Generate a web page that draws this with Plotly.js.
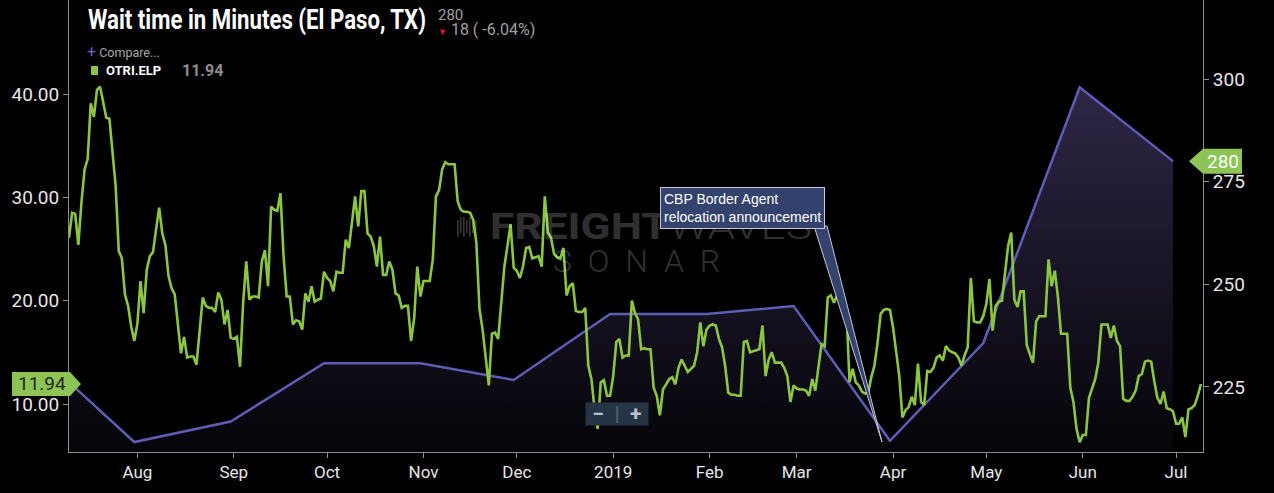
<!DOCTYPE html>
<html>
<head>
<meta charset="utf-8">
<script src="https://cdn.plot.ly/plotly-3.0.1.min.js"></script>
<style>
html,body{margin:0;padding:0;background:#000;}
#chart{width:1274px;height:493px;}
</style>
</head>
<body>
<div id="chart"></div>
<script>
// ---------------- DATA ----------------
const chartTitle = 'Wait time in Minutes (El Paso, TX)';
const seriesName = 'OTRI.ELP';
const waitStartDate = '2018-07-10';   // daily series starts here
const waitMinutes = [
  26.1, 28.5, 28.4, 25.4, 29.5, 32.7, 33.7, 39.1, 37.8, 40.4,
  40.7, 39.1, 37.7, 37.6, 34.0, 31.1, 24.8, 24.1, 20.6, 19.5,
  17.5, 16.1, 17.8, 21.9, 18.8, 23.0, 24.3, 24.7, 26.9, 29.0,
  26.5, 25.4, 22.4, 21.2, 20.6, 17.8, 14.9, 16.5, 14.5, 14.6,
  14.6, 13.8, 16.9, 20.3, 19.5, 19.3, 19.3, 18.9, 20.8, 20.1,
  17.7, 19.1, 16.4, 16.3, 16.5, 13.6, 19.8, 23.8, 20.1, 20.4,
  20.4, 20.3, 23.8, 24.9, 21.4, 29.1, 28.8, 28.7, 30.4, 24.3,
  20.4, 20.4, 17.7, 18.1, 18.0, 17.2, 20.7, 19.9, 21.4, 19.9,
  20.1, 20.2, 22.8, 22.2, 21.9, 20.9, 22.8, 22.7, 22.7, 25.9,
  25.1, 27.7, 30.1, 27.2, 30.6, 30.6, 26.5, 26.2, 25.3, 23.3,
  26.2, 22.5, 22.5, 23.8, 23.0, 20.7, 20.5, 19.3, 19.5, 19.5,
  16.1, 18.3, 23.3, 20.4, 21.9, 21.9, 21.9, 24.0, 30.1,
  30.7, 32.7, 33.4, 33.2, 33.2, 33.2, 29.6, 28.8, 28.6, 28.6,
  28.5, 27.8, 25.6, 19.2, 17.2, 14.7, 11.8, 16.8, 16.9, 16.3,
  20.1, 23.3, 25.3, 27.4, 23.2, 22.9, 22.2, 23.3, 25.1, 25.2,
  24.1, 24.2, 24.3, 23.3, 30.1, 26.6, 26.1, 24.5, 24.2, 24.1,
  25.1, 20.5, 21.4, 21.7, 19.0, 18.9, 18.9, 19.3, 13.7, 12.4,
  9.5, 7.6, 12.1, 12.3, 10.8, 10.8, 12.7, 16.0, 16.3, 14.5,
  14.7, 14.7, 20.0, 18.8, 18.2, 15.3, 15.4, 15.3, 15.3, 11.6,
  10.8, 8.9, 11.4, 11.9, 12.4, 12.6, 11.9, 13.5, 14.3, 13.7,
  13.1, 13.4, 13.7,
  15.0, 17.9, 15.6, 17.2, 17.6, 17.7, 17.6, 16.3, 15.5, 13.7,
  11.1, 10.9, 10.9, 10.8, 10.8, 16.0, 16.1, 15.0, 15.1, 15.2,
  15.3, 17.6, 12.7, 14.3, 15.0, 14.0, 14.0, 14.0, 13.5, 12.7,
  10.2, 11.8, 11.5, 11.4, 11.4, 11.3, 10.8, 12.4, 11.3, 13.4,
  15.8, 15.6, 20.3, 20.5, 19.8, 20.5, 21.3, 19.3, 19.2, 12.1,
  13.4, 12.1, 11.8, 11.2, 11.0, 11.1, 12.6, 13.7, 15.9, 18.7,
  19.1, 19.2, 19.1, 17.4, 15.2, 12.7, 8.7, 9.4, 9.7, 10.7,
  9.9, 13.9, 10.2, 9.9, 13.2, 13.1, 13.5, 14.5, 14.7, 14.2,
  15.6, 15.2,
  15.0, 14.9, 14.5, 13.7, 14.7, 15.5, 22.2, 18.0, 17.9, 17.9,
  18.5, 19.7, 22.1, 17.1, 19.5, 19.9, 20.0, 23.0, 25.3, 26.6,
  20.1, 19.4, 20.9, 20.9, 15.7, 14.8, 14.0, 18.0, 18.5, 18.5,
  18.5, 24.0, 21.4, 22.9, 20.4, 16.8, 16.8, 16.8, 11.6, 10.2,
  7.6, 6.3, 7.0, 7.0, 10.6, 11.5, 12.4, 14.0, 17.7, 17.7,
  17.7, 16.4, 17.6, 16.1, 15.6, 10.5, 10.3, 10.3, 10.7, 11.3,
  12.7, 12.9, 14.1, 14.2, 14.1, 12.2, 10.6, 10.0, 11.2, 9.6,
  9.5, 9.3, 8.1, 8.1, 8.7, 6.8, 9.5, 9.6, 9.9, 10.8,
  11.94
];

const compareDates = [
  '2018-07-10', '2018-07-31', '2018-08-31', '2018-09-30', '2018-10-31',
  '2018-11-30', '2018-12-31', '2019-01-31', '2019-02-28', '2019-03-31',
  '2019-04-30', '2019-05-31', '2019-06-30'
];
const compareValues = [
  226.2, 211.6, 216.6, 230.8, 230.8,
  226.7, 242.8, 242.8, 244.7, 211.9,
  235.7, 298, 280
];

const monthTicks = ['2018-08-01','2018-09-01','2018-10-01','2018-11-01','2018-12-01','2019-01-01',
                    '2019-02-01','2019-03-01','2019-04-01','2019-05-01','2019-06-01','2019-07-01'];
const monthLabels = ['Aug','Sep','Oct','Nov','Dec','2019','Feb','Mar','Apr','May','Jun','Jul'];

const eventText = ['CBP Border Agent', 'relocation announcement'];

// ---------------- BUILD ----------------
function addDays(s, n) {
  const d = new Date(s + 'T00:00:00Z');
  d.setUTCDate(d.getUTCDate() + n);
  return d.toISOString().slice(0, 10);
}
const waitDates = waitMinutes.map((_, i) => addDays(waitStartDate, i));

const xRange = ['2018-07-10', '2019-07-09 16:00'];
const leftRange = [5.355, 49.10];
const rightRange = [209.17, 319.24];

const GREEN = '#8cc63f';
const TAG_GREEN = '#8dc455';
const PURPLE = '#5d5db5';
const AXIS = '#8e8e8e';
const WM = 'rgba(255,255,255,0.21)';
const FONT = 'Roboto, "Noto Sans", Arial, sans-serif';

const lastWait = waitMinutes[waitMinutes.length - 1];
const lastCmp = compareValues[compareValues.length - 1];
const prevCmp = compareValues[compareValues.length - 2];
const diff = lastCmp - prevCmp;
const pct = diff / prevCmp * 100;

// plot area in pixels: 69..1203 wide, 0..452 tall
const PL = 69, PW = 1134, PH = 452;
const px2x = p => (p - PL) / PW;
const py2y = p => (PH - p) / PH;
const vL = v => (v - leftRange[0]) / (leftRange[1] - leftRange[0]);
const vR = v => (v - rightRange[0]) / (rightRange[1] - rightRange[0]);

const traces = [
  {
    x: compareDates, y: compareValues, yaxis: 'y', type: 'scatter', mode: 'lines',
    line: {color: PURPLE, width: 2.5},
    fill: 'tozeroy',
    fillgradient: {type: 'vertical', start: rightRange[0], stop: 300,
                   colorscale: [[0, '#050408'], [1, '#2e2747']]},
    hoverinfo: 'skip'
  },
  {
    x: waitDates, y: waitMinutes, yaxis: 'y2', type: 'scatter', mode: 'lines',
    line: {color: GREEN, width: 2.6},
    hoverinfo: 'skip'
  }
];

// tag shapes
const lyc = vL(lastWait), lh = 12 / PH;
const ryc = vR(lastCmp), rh = 12.5 / PH;
const shapes = [
  {type: 'path', xref: 'paper', yref: 'paper', fillcolor: TAG_GREEN, line: {width: 0},
   path: `M ${px2x(12)},${lyc + lh} L ${px2x(70)},${lyc + lh} L ${px2x(81)},${lyc} L ${px2x(70)},${lyc - lh} L ${px2x(12)},${lyc - lh} Z`},
  {type: 'path', xref: 'paper', yref: 'paper', fillcolor: TAG_GREEN, line: {width: 0},
   path: `M ${px2x(1189)},${ryc} L ${px2x(1203)},${ryc + rh} L ${px2x(1242)},${ryc + rh} L ${px2x(1242)},${ryc - rh} L ${px2x(1203)},${ryc - rh} Z`},
  // legend colour square
  {type: 'rect', xref: 'paper', yref: 'paper', fillcolor: GREEN, line: {width: 0},
   x0: px2x(91), x1: px2x(98), y0: py2y(75), y1: py2y(66)},
  // callout pointer
  {type: 'path', xref: 'paper', yref: 'paper', fillcolor: '#34426e', line: {color: '#c5c8d8', width: 1},
   path: `M ${px2x(814)},${py2y(226)} L ${px2x(827)},${py2y(226)} L ${px2x(882)},${py2y(442)} Z`}
];
// watermark logo bars (behind the data)
[457, 460, 463, 466, 469, 472, 475].forEach((bx, i) => {
  shapes.push({type: 'rect', xref: 'paper', yref: 'paper', layer: 'below',
    fillcolor: WM, line: {width: 0},
    x0: px2x(bx), x1: px2x(bx + 1.6), y0: py2y(i % 2 ? 233 : 237), y1: py2y(i % 3 ? 217 : 220)});
});

const annotations = [
  // 0 title
  {xref: 'paper', yref: 'paper', x: px2x(86), y: py2y(20), xanchor: 'left', yanchor: 'middle',
   text: chartTitle, showarrow: false, align: 'left',
   font: {family: FONT, size: 28, color: '#ffffff', weight: 700}},
  // 1 last value
  {xref: 'paper', yref: 'paper', x: px2x(436), y: py2y(15), xanchor: 'left', yanchor: 'middle',
   text: String(lastCmp), showarrow: false, align: 'left',
   font: {family: FONT, size: 15, color: '#a0a0a0'}},
  // 2 change
  {xref: 'paper', yref: 'paper', x: px2x(436), y: py2y(29), xanchor: 'left', yanchor: 'middle',
   text: `<span style="color:#e0123c;font-size:9px">▼</span> ${Math.abs(diff)} ( ${pct.toFixed(2)}%)`,
   showarrow: false, align: 'left',
   font: {family: FONT, size: 16, color: '#a0a0a0'}},
  // 3 compare
  {xref: 'paper', yref: 'paper', x: px2x(85), y: py2y(51), xanchor: 'left', yanchor: 'middle',
   text: '<span style="color:#6b6bd0;font-size:16px">+</span> Compare...', showarrow: false, align: 'left',
   font: {family: FONT, size: 12.5, color: '#a8a8a8'}},
  // 4 series name
  {xref: 'paper', yref: 'paper', x: px2x(104), y: py2y(71), xanchor: 'left', yanchor: 'middle',
   text: '<b>' + seriesName + '</b>', showarrow: false, align: 'left',
   font: {family: FONT, size: 13, color: '#ffffff'}},
  // 5 series last value
  {xref: 'paper', yref: 'paper', x: px2x(180), y: py2y(71), xanchor: 'left', yanchor: 'middle',
   text: '<b>' + lastWait.toFixed(2) + '</b>', showarrow: false, align: 'left',
   font: {family: FONT, size: 16, color: '#8c8c8c'}},
  // 6 left tag text
  {xref: 'paper', yref: 'paper', x: px2x(42), y: lyc, xanchor: 'center', yanchor: 'middle',
   text: lastWait.toFixed(2), showarrow: false,
   font: {family: FONT, size: 19, color: '#1d2616'}},
  // 7 right tag text
  {xref: 'paper', yref: 'paper', x: px2x(1223), y: ryc, xanchor: 'center', yanchor: 'middle',
   text: String(lastCmp), showarrow: false,
   font: {family: FONT, size: 19, color: '#ffffff'}},
  // 8 watermark
  {xref: 'paper', yref: 'paper', x: px2x(488), y: py2y(227), xanchor: 'left', yanchor: 'middle',
   text: '<b>FREIGHT</b>WAVES', showarrow: false, align: 'left',
   font: {family: FONT, size: 36, color: WM, weight: 300}},
  // 9 watermark 2
  {xref: 'paper', yref: 'paper', x: px2x(551), y: py2y(261), xanchor: 'left', yanchor: 'middle',
   text: 'SONAR', showarrow: false, align: 'left',
   font: {family: FONT, size: 32, color: WM, weight: 300}},
  // 10 event callout
  {xref: 'paper', yref: 'paper', x: px2x(742), y: py2y(208), xanchor: 'center', yanchor: 'middle',
   text: eventText.join('<br>'), showarrow: false, align: 'left',
   bgcolor: '#34426e', bordercolor: '#c5c8d8', borderwidth: 1, borderpad: 3,
   font: {family: '"Liberation Sans", Arial, sans-serif', size: 14, color: '#ffffff'}},
  // 11 zoom buttons
  {xref: 'paper', yref: 'paper', x: px2x(617), y: py2y(414), xanchor: 'center', yanchor: 'middle',
   text: '<b>−</b>  <span style="color:#55637a">|</span>  <b>+</b>', showarrow: false,
   bgcolor: '#263545', borderpad: 2, width: 58, height: 18,
   font: {family: FONT, size: 21, color: '#b9c2cc'}}
];

const layout = {
  width: 1274, height: 493,
  paper_bgcolor: '#000', plot_bgcolor: '#000',
  margin: {l: 69, r: 71, t: 0, b: 41, pad: 0},
  showlegend: false,
  font: {family: FONT, color: '#e6e6e6'},
  xaxis: {
    type: 'date', range: xRange, tickvals: monthTicks, ticktext: monthLabels,
    ticks: 'outside', ticklen: 5, tickcolor: AXIS, tickwidth: 1,
    showline: true, linecolor: AXIS, linewidth: 1, mirror: false,
    showgrid: false, zeroline: false,
    tickfont: {family: FONT, size: 17, color: '#e6e6e6'}
  },
  yaxis: {
    range: rightRange, side: 'right', dtick: 25, tick0: 0,
    ticks: 'outside', ticklen: 5, tickcolor: AXIS,
    showline: true, linecolor: AXIS, linewidth: 1,
    showgrid: false, zeroline: false,
    tickfont: {family: FONT, size: 19, color: '#e6e6e6'}
  },
  yaxis2: {
    range: leftRange, side: 'left', overlaying: 'y', dtick: 10, tick0: 0, tickformat: '.2f',
    ticks: 'outside', ticklen: 5, tickcolor: AXIS,
    showline: true, linecolor: AXIS, linewidth: 1,
    showgrid: false, zeroline: false,
    tickfont: {family: FONT, size: 19, color: '#e6e6e6'}
  },
  shapes: shapes,
  annotations: annotations
};

Plotly.newPlot('chart', traces, layout, {staticPlot: true, displayModeBar: false}).then(gd => {
  // compress wide texts to the condensed widths seen in the reference
  const fit = (idx, len, mode) => {
    const g = gd.querySelector('.annotation[data-index="' + idx + '"]');
    if (!g) return;
    const t = g.querySelector('text.annotation-text');
    if (t) { t.setAttribute('textLength', len); t.setAttribute('lengthAdjust', mode); }
    g.querySelectorAll('rect').forEach(r => {
      const w = parseFloat(r.getAttribute('width'));
      if (w > len + 4) r.setAttribute('width', len + 4);
    });
  };
  fit(0, 338, 'spacingAndGlyphs');
  fit(8, 322, 'spacingAndGlyphs');
  fit(9, 167, 'spacing');
});
</script>
</body>
</html>
